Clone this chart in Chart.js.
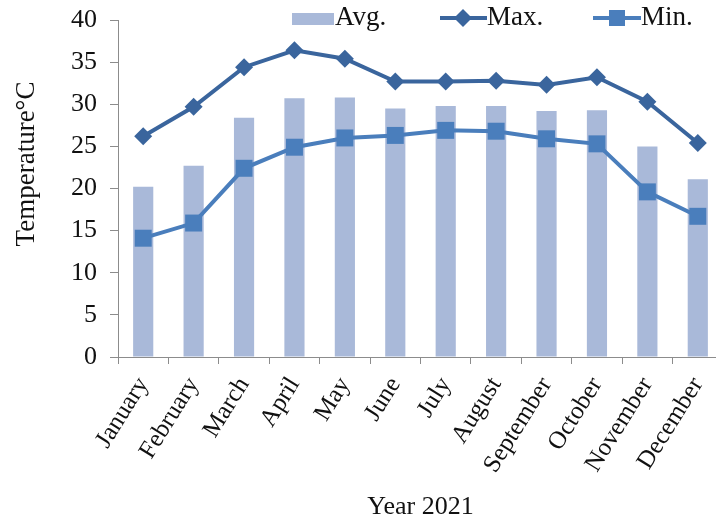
<!DOCTYPE html>
<html>
<head>
<meta charset="utf-8">
<script src="https://cdn.jsdelivr.net/npm/chart.js@4"></script>
<style>
  html, body { margin: 0; padding: 0; background: #fff; overflow: hidden; }
  #wrap { width: 716px; height: 524px; overflow: hidden; }
</style>
</head>
<body>
<div id="wrap"><canvas id="chart" width="735" height="524"></canvas></div>
<script>
const months = ['January', 'February', 'March', 'April', 'May', 'June', 'July',
  'August', 'September', 'October', 'November', 'December'];
const avgTemp = [20.2, 22.7, 28.4, 30.7, 30.8, 29.5, 29.8, 29.8, 29.2, 29.3, 25.0, 21.1];
const maxTemp = [26.2, 29.7, 34.4, 36.4, 35.4, 32.7, 32.7, 32.8, 32.3, 33.2, 30.3, 25.4];
const minTemp = [14.1, 15.9, 22.4, 24.9, 26.0, 26.3, 26.9, 26.8, 25.9, 25.3, 19.6, 16.7];
const yTicks = [0, 5, 10, 15, 20, 25, 30, 35, 40];

const FONT = 'Liberation Serif';
const barColor = '#A9B9D9';
const maxColor = '#3A659D';
const minColor = '#4A7EBC';
const axisColor = '#8C8C8C';

// legend + y title drawn by hand (they sit inside the plot in the original)
const extras = {
  id: 'extras',
  afterDraw(chart) {
    const ctx = chart.ctx;
    ctx.save();
    ctx.font = '27px "' + FONT + '"';
    ctx.textBaseline = 'middle';
    ctx.textAlign = 'left';

    ctx.fillStyle = barColor;
    ctx.fillRect(292, 13, 42, 12);
    ctx.fillStyle = '#111';
    ctx.fillText('Avg.', 335, 18);

    ctx.strokeStyle = maxColor;
    ctx.lineWidth = 4;
    ctx.beginPath(); ctx.moveTo(440, 18); ctx.lineTo(487, 18); ctx.stroke();
    ctx.fillStyle = maxColor;
    ctx.beginPath();
    ctx.moveTo(463, 9); ctx.lineTo(472, 18); ctx.lineTo(463, 27); ctx.lineTo(454, 18);
    ctx.closePath(); ctx.fill();
    ctx.fillStyle = '#111';
    ctx.fillText('Max.', 487, 18);

    ctx.strokeStyle = minColor;
    ctx.beginPath(); ctx.moveTo(593, 18); ctx.lineTo(641, 18); ctx.stroke();
    ctx.fillStyle = minColor;
    ctx.fillRect(609, 10, 16, 16);
    ctx.fillStyle = '#111';
    ctx.fillText('Min.', 641, 18);

    ctx.translate(27, 164);
    ctx.rotate(-Math.PI / 2);
    ctx.textAlign = 'center';
    ctx.fillText('Temperature°C', 0, 0);
    ctx.restore();
  }
};

new Chart(document.getElementById('chart').getContext('2d'), {
  type: 'bar',
  data: {
    labels: months,
    datasets: [
      {
        type: 'line',
        label: 'Max.',
        data: maxTemp,
        borderColor: maxColor,
        backgroundColor: maxColor,
        borderWidth: 4,
        pointStyle: 'rectRot',
        pointRadius: 9,
        pointBorderWidth: 0,
        tension: 0,
        order: 1
      },
      {
        type: 'line',
        label: 'Min.',
        data: minTemp,
        borderColor: minColor,
        backgroundColor: minColor,
        borderWidth: 4,
        pointStyle: 'rect',
        pointRadius: 12,
        pointBorderWidth: 0,
        tension: 0,
        order: 1
      },
      {
        label: 'Avg.',
        data: avgTemp,
        backgroundColor: barColor,
        barPercentage: 0.4,
        categoryPercentage: 1,
        order: 2
      }
    ]
  },
  options: {
    responsive: false,
    animation: false,
    layout: { padding: { top: 20, left: 0, right: 1, bottom: 0 } },
    plugins: { legend: { display: false }, tooltip: { enabled: false } },
    scales: {
      x: {
        grid: { offset: true, drawOnChartArea: false, tickLength: 7, color: axisColor },
        border: { color: axisColor, width: 1 },
        ticks: {
          color: '#111',
          font: { family: FONT, size: 25 },
          minRotation: 58,
          maxRotation: 58,
          padding: 8
        },
        title: {
          display: true,
          text: 'Year 2021',
          color: '#111',
          font: { family: FONT, size: 26 },
          padding: { top: 4, bottom: 1 }
        },
        afterFit(scale) { scale.height = 167; }
      },
      y: {
        min: 0,
        max: 40,
        afterBuildTicks(scale) { scale.ticks = yTicks.map(v => ({ value: v })); },
        grid: { drawOnChartArea: false, tickLength: 8, color: axisColor },
        border: { color: axisColor, width: 1 },
        ticks: {
          color: '#111',
          font: { family: FONT, size: 26 },
          padding: 13
        },
        afterFit(scale) {
          scale.width = 118;
          scale.paddingTop = 0;
          scale.paddingBottom = 0;
        }
      }
    }
  },
  plugins: [extras]
});
</script>
</body>
</html>
